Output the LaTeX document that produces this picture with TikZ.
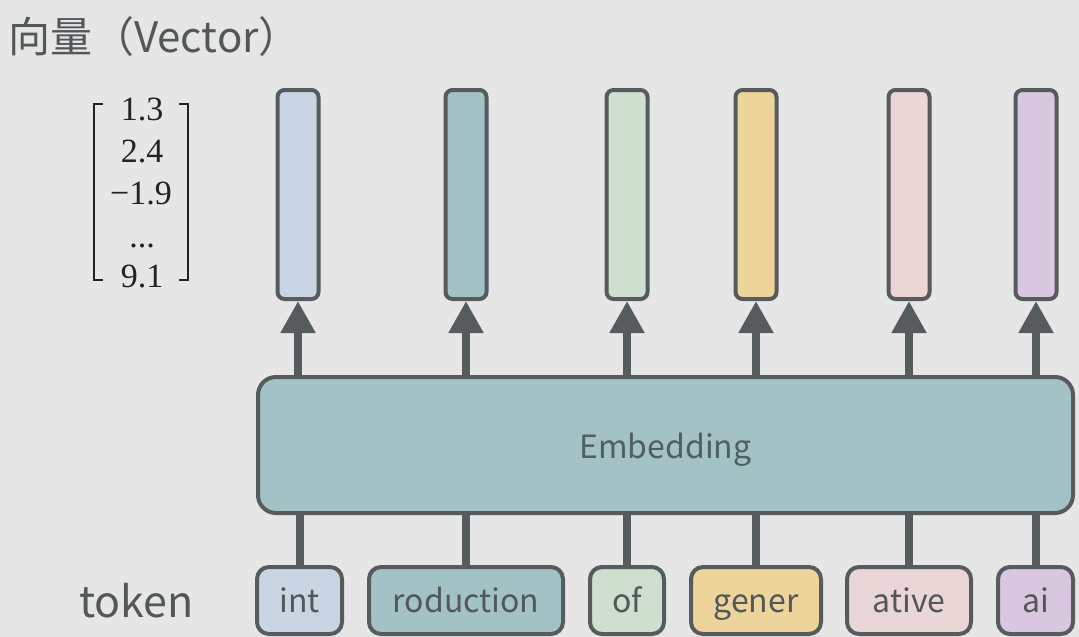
\documentclass[tikz,border=0pt]{standalone}
\usepackage{fontspec}
\newfontfamily\cjk{Noto Sans CJK SC}
\newfontfamily\numfont{Liberation Serif}
\usetikzlibrary{arrows.meta,positioning}
\definecolor{bg}{HTML}{E6E6E6}
\definecolor{ink}{HTML}{565B5E}
\definecolor{txt}{HTML}{52575A}
\definecolor{embtxt}{HTML}{4E5F66}
\definecolor{numtxt}{HTML}{222222}
\definecolor{cA}{HTML}{C9D4E3}
\definecolor{cB}{HTML}{A3C2C6}
\definecolor{cC}{HTML}{CEDECF}
\definecolor{cD}{HTML}{EDD49A}
\definecolor{cE}{HTML}{EAD6D7}
\definecolor{cF}{HTML}{D9C7E0}

\begin{document}
\begin{tikzpicture}[x=1pt,y=-1pt,
  num/.style={anchor=base,text=numtxt,font=\numfont\fontsize{34}{38}\selectfont,inner sep=0pt},
  vecbar/.style={draw=ink,line width=4pt,rounded corners=7pt,minimum width=41pt,minimum height=209pt,inner sep=0pt},
  tokbox/.style={draw=ink,line width=4pt,rounded corners=12pt,minimum height=67pt,inner sep=0pt,
    text height=30pt,text depth=7pt,text=txt,font=\cjk\fontsize{32}{36}\selectfont},
  up/.style={draw=ink,line width=8pt,-{Triangle[width=33pt,length=32pt]}},
  link/.style={draw=ink,line width=8pt}]
  \fill[bg] (0,0) rectangle (1079,637);
  \node[anchor=base west,inner sep=0pt,text=txt,font=\cjk\fontsize{42}{46}\selectfont] (title) at (8,52) {向量（Vector）};
  \node[num] (n1) at (142,120) {1.3};
  \node[num] (n2) at (142,162) {2.4};
  \node[num] (n3) at (141,204) {−1.9};
  \node[num] (n4) at (142,247) {...};
  \node[num] (n5) at (142,287) {9.1};
  \draw[numtxt,line width=1.6pt] (103,104) -- (94,104) -- (94,280) -- (103,280);
  \draw[numtxt,line width=1.6pt] (179,104) -- (188,104) -- (188,280) -- (179,280);
  \node[vecbar,fill=cA] (v1) at (298,194.5) {};
  \node[vecbar,fill=cB] (v2) at (466,194.5) {};
  \node[vecbar,fill=cC] (v3) at (627,194.5) {};
  \node[vecbar,fill=cD] (v4) at (756,194.5) {};
  \node[vecbar,fill=cE] (v5) at (909,194.5) {};
  \node[vecbar,fill=cF] (v6) at (1036,194.5) {};
  \node[draw=ink,line width=4pt,rounded corners=18pt,fill=cB,minimum width=815pt,minimum height=136pt,
    text height=33pt,text depth=7pt,text=embtxt,font=\cjk\fontsize{32}{36}\selectfont] (emb) at (665.5,445) {Embedding};
  \node[anchor=base west,inner sep=0pt,text=txt,font=\cjk\fontsize{43}{46}\selectfont] (toklbl) at (79,617) {token};
  \node[tokbox,fill=cA,minimum width=85pt] (t1) at (299.5,600.5) {int};
  \node[tokbox,fill=cB,minimum width=194pt] (t2) at (466,600.5) {roduction};
  \node[tokbox,fill=cC,minimum width=74pt] (t3) at (627,600.5) {of};
  \node[tokbox,fill=cD,minimum width=130pt] (t4) at (756,600.5) {gener};
  \node[tokbox,fill=cE,minimum width=124pt] (t5) at (909,600.5) {ative};
  \node[tokbox,fill=cF,minimum width=75pt] (t6) at (1035.5,600.5) {ai};
  \foreach \i in {1,...,6}{
    \draw[up] (v\i.south |- emb.north) -- (v\i.south);
    \draw[link] (t\i.north) -- (t\i.north |- emb.south);
  }
\end{tikzpicture}
\end{document}
